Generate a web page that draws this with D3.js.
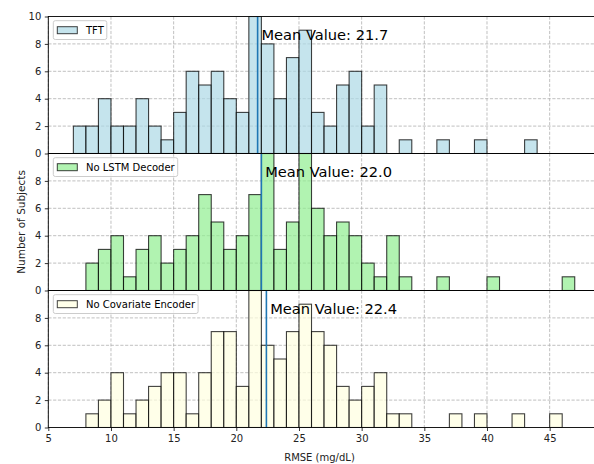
<!DOCTYPE html>
<html>
<head>
<meta charset="utf-8">
<script src="https://cdn.jsdelivr.net/npm/d3@7"></script>
<style>
  html, body { margin: 0; padding: 0; background: #fff; }
  svg { display: block; font-family: "DejaVu Sans", sans-serif; }
</style>
</head>
<body>
<svg id="chart" width="594" height="464"></svg>
<script>
// Histogram bins: 1 mg/dL wide, identified by their left edge
const binStarts = d3.range(7, 47);

// Subject counts per bin (left edge 7 .. 46)
const countsTFT = [2,2,4,2,2,4,2,1,3,6,5,6,4,3,10,8,4,7,9,3,2,5,6,2,5,0,1,0,0,1,0,0,1,0,0,0,1,0,0,0];
const countsNoLSTM = [0,2,3,4,1,3,4,2,3,4,7,5,3,4,7,10,3,5,10,6,4,5,4,2,1,4,1,0,0,1,0,0,0,1,0,0,0,0,0,1];
const countsNoCovariate = [0,1,2,4,1,2,3,4,4,1,4,7,7,3,10,6,5,7,9,7,6,3,2,3,4,1,1,0,0,0,1,0,1,0,0,1,0,0,1,0];

const seriesNames = ["TFT", "No LSTM Decoder", "No Covariate Encoder"];
const seriesCounts = [countsTFT, countsNoLSTM, countsNoCovariate];
const seriesMeans = [21.7, 22.0, 22.4];
const seriesColors = ["#add8e6", "#90ee90", "#ffffe0"];

const xTicks = [5, 10, 15, 20, 25, 30, 35, 40, 45];
const yTicksTop = [0, 2, 4, 6, 8, 10];
const yTicksLower = [0, 2, 4, 6, 8];

const xLabel = "RMSE (mg/dL)";
const yLabel = "Number of Subjects";

const svg = d3.select("#chart");

const left = 48.3, right = 599.8;
const panelTop = 16.5, panelH = 137;

const x = d3.scaleLinear().domain([5, 49]).range([left, right]);

const gridStyle = sel => sel
  .attr("stroke", "#b0b0b0")
  .attr("stroke-width", 0.8)
  .attr("stroke-dasharray", "3.2,1.6");

seriesNames.forEach((name, i) => {
  const top = panelTop + i * panelH;
  const bottom = top + panelH;
  const y = d3.scaleLinear().domain([0, 10]).range([bottom, top]);
  const g = svg.append("g");

  const clipId = "clip" + i;
  svg.append("clipPath").attr("id", clipId)
    .append("rect").attr("x", left).attr("y", top)
    .attr("width", right - left).attr("height", panelH);

  // grid
  const grid = g.append("g");
  grid.selectAll("line.v").data(xTicks).join("line")
    .attr("x1", d => x(d)).attr("x2", d => x(d))
    .attr("y1", top).attr("y2", bottom)
    .call(gridStyle);
  grid.selectAll("line.h").data(yTicksTop.filter(d => d > 0 && d < 10)).join("line")
    .attr("x1", left).attr("x2", right)
    .attr("y1", d => y(d)).attr("y2", d => y(d))
    .call(gridStyle);

  // bars
  const data = binStarts.map((b, k) => ({ b, c: seriesCounts[i][k] })).filter(d => d.c > 0);
  g.append("g").attr("clip-path", `url(#${clipId})`)
    .selectAll("rect").data(data).join("rect")
    .attr("x", d => x(d.b))
    .attr("width", d => x(d.b + 1) - x(d.b))
    .attr("y", d => y(d.c))
    .attr("height", d => y(0) - y(d.c))
    .attr("fill", seriesColors[i]).attr("fill-opacity", 0.7)
    .attr("stroke", "#000").attr("stroke-opacity", 0.75).attr("stroke-width", 1.1);

  // mean line
  g.append("line")
    .attr("x1", x(seriesMeans[i])).attr("x2", x(seriesMeans[i]))
    .attr("y1", top).attr("y2", bottom)
    .attr("stroke", "#1f77b4").attr("stroke-width", 1.6);

  // mean annotation, sized so the label spans about 127px
  const mt = g.append("text")
    .attr("x", x(seriesMeans[i] + 0.3))
    .attr("y", y(8.25))
    .style("font-size", "14px")
    .attr("fill", "#000")
    .text("Mean Value: " + seriesMeans[i].toFixed(1));
  const mw = mt.node().getComputedTextLength();
  if (mw > 0) mt.style("font-size", (14 * 127 / mw).toFixed(2) + "px");

  // y axis
  const yAxis = d3.axisLeft(y).tickValues(i === 0 ? yTicksTop : yTicksLower)
    .tickSize(3.5).tickPadding(3.5).tickFormat(d3.format("d"));
  const ya = g.append("g").attr("transform", `translate(${left},0)`).call(yAxis);
  ya.select(".domain").remove();
  ya.selectAll("text").attr("font-size", 10).attr("font-family", "DejaVu Sans").attr("fill", "#222");
  ya.selectAll("line").attr("stroke", "#000").attr("stroke-width", 0.8);

  // spines
  g.append("rect").attr("x", left).attr("y", top)
    .attr("width", right - left).attr("height", panelH)
    .attr("fill", "none").attr("stroke", "#000").attr("stroke-width", 0.9);

  // legend
  const lg = g.append("g").attr("transform", `translate(53.3,${top + 4.2})`);
  const txt = lg.append("text")
    .attr("x", 32.7).attr("y", 9.4).attr("dy", "0.35em")
    .attr("font-size", 10).attr("fill", "#000").text(name);
  const tw = txt.node().getComputedTextLength();
  lg.insert("rect", "text")
    .attr("x", 0).attr("y", 0).attr("rx", 2).attr("ry", 2)
    .attr("width", 32.7 + tw + 3).attr("height", 18.8)
    .attr("fill", "#fff").attr("fill-opacity", 0.8)
    .attr("stroke", "#cccccc").attr("stroke-width", 1);
  lg.insert("rect", "text")
    .attr("x", 4).attr("y", 6).attr("width", 20).attr("height", 7)
    .attr("fill", seriesColors[i]).attr("fill-opacity", 0.7)
    .attr("stroke", "#000").attr("stroke-opacity", 0.75).attr("stroke-width", 1);

  // x axis on the bottom panel
  if (i === seriesNames.length - 1) {
    const xAxis = d3.axisBottom(x).tickValues(xTicks).tickSize(3.5).tickPadding(3.5);
    const xa = g.append("g").attr("transform", `translate(0,${bottom})`).call(xAxis);
    xa.select(".domain").remove();
    xa.selectAll("text").attr("font-size", 10).attr("font-family", "DejaVu Sans").attr("fill", "#222");
    xa.selectAll("line").attr("stroke", "#000").attr("stroke-width", 0.8);
  }
});

svg.append("text")
  .attr("x", 319.5).attr("y", 460.5)
  .attr("text-anchor", "middle").attr("font-size", 10).attr("fill", "#222")
  .text(xLabel);

svg.append("text")
  .attr("transform", "translate(24.5,222) rotate(-90)")
  .attr("text-anchor", "middle").attr("font-size", 10.5).attr("fill", "#222")
  .text(yLabel);
</script>
</body>
</html>
